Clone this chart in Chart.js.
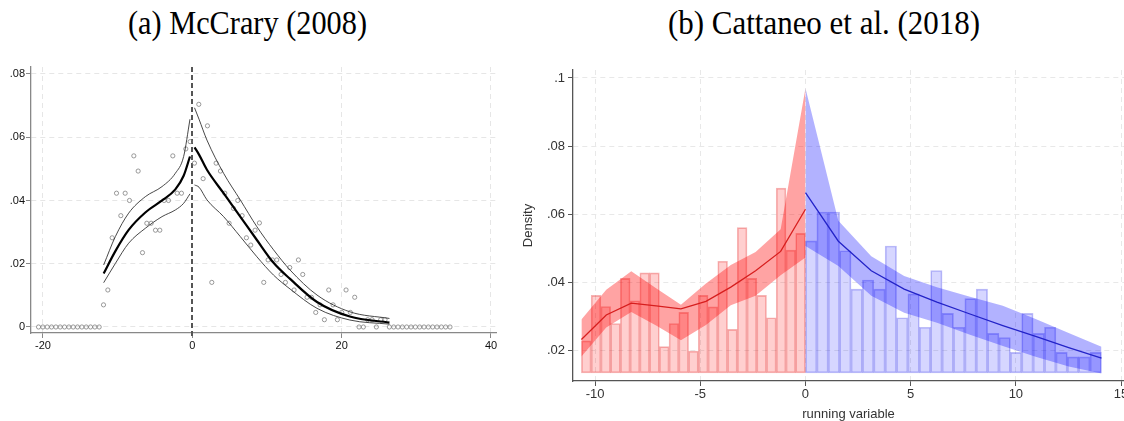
<!DOCTYPE html>
<html><head><meta charset="utf-8">
<script src="https://cdn.jsdelivr.net/npm/chart.js@4.4.1/dist/chart.umd.min.js"></script>
<style>
html,body{margin:0;padding:0;background:#fff;width:1124px;height:421px;overflow:hidden;}
.title{position:absolute;top:7px;font-family:"Liberation Serif","Times New Roman",serif;font-size:33px;color:#000;white-space:nowrap;transform-origin:left top;line-height:1;}
#cA{position:absolute;left:0;top:50px;}
#cB{position:absolute;left:515px;top:50px;}
</style></head><body>
<div class="title" id="tA">(a) McCrary (2008)</div>
<div class="title" id="tB">(b) Cattaneo et al. (2018)</div>
<canvas id="cA" width="512" height="371"></canvas>
<canvas id="cB" width="609" height="371"></canvas>
<script>
// ---------- Panel (a): McCrary (2008) ----------
const mcBinCenters = [-20.59,-20.01,-19.43,-18.85,-18.27,-17.69,-17.11,-16.53,-15.95,-15.37,-14.79,-14.21,-13.63,-13.05,-12.47,
 -11.89,-11.31,-10.73,-10.15,-9.57,-8.99,-8.41,-7.83,-7.25,-6.67,-6.09,-5.51,-4.93,-4.35,-3.77,-3.19,-2.61,-2.03,-1.45,-0.87,-0.29,
 0.29,0.87,1.45,2.03,2.61,3.19,3.77,4.35,4.93,5.51,6.09,6.67,7.25,7.83,8.41,8.99,9.57,10.15,10.73,11.31,11.89,12.47,13.05,13.63,14.21,
 14.79,15.37,15.95,16.53,17.11,17.69,18.27,18.85,19.43,20.01,20.59,21.17,21.75,22.33,22.91,23.49,24.07,24.65,25.23,25.81,
 26.39,26.97,27.55,28.13,28.71,29.29,29.87,30.45,31.03,31.61,32.19,32.77,33.35,33.93,34.51];
const mcBinDensity = [0,0,0,0,0,0,0,0,0,0,0,0,0,0,0,
 0.0070,0.0117,0.0282,0.0423,0.0352,0.0423,0.0400,0.0541,0.0493,0.0235,0.0328,0.0328,0.0306,0.0306,0.0400,0.0400,0.0541,0.0423,0.0423,0.0563,0.0586,
 0.0518,0.0704,0.0469,0.0636,0.0141,0.0518,0.0493,0.0423,0.0328,0.0375,0.0400,0.0352,0.0282,0.0259,0.0306,0.0329,0.0141,0.0212,0.0212,0.0212,0.0166,0.0141,0.0188,0.0117,0.0212,
 0.0166,0.0094,0.0094,0.0046,0.0070,0.0023,0.0117,0.0070,0.0023,0.0046,0.0117,0.0046,0.0094,0,0,0.0023,0.0023,0,0.0023,0.0023,
 0,0,0,0,0,0,0,0,0,0,0,0,0,0,0];
const mcFitLeftX = [-11.87,-10.3,-8.52,-6.29,-4.05,-2.27,-1.16,-0.31];
const mcFitLeftY = [0.0169,0.0240,0.0307,0.0362,0.0400,0.0435,0.0478,0.0539];
const mcCILeftUp = [0.0196,0.0286,0.0360,0.0412,0.0444,0.0486,0.0539,0.0657];
const mcCILeftLo = [0.0140,0.0201,0.0265,0.0312,0.0349,0.0370,0.0391,0.0421];
const mcFitRightX = [0.3,0.9,1.96,4.19,6.42,8.65,10.88,13.1,16.7,21.1,26.4];
const mcFitRightY = [0.0568,0.0545,0.0497,0.0423,0.0349,0.0275,0.0203,0.0152,0.0079,0.0033,0.0014];
const mcCIRightUp = [0.0693,0.0657,0.0591,0.0486,0.0402,0.0317,0.0244,0.0180,0.0101,0.0048,0.0027];
const mcCIRightLo = [0.0449,0.0442,0.0402,0.0349,0.0286,0.0222,0.0164,0.0120,0.0059,0.0022,0.0009];
const mcXTicks = [-20,0,20,40];
const mcYTicks = [0,0.02,0.04,0.06,0.08];
const mcCutoff = 0;

// ---------- Panel (b): Cattaneo et al. (2018) ----------
const ceRedBinX = [-10.419,-9.956,-9.493,-9.030,-8.567,-8.104,-7.641,-7.178,-6.715,-6.252,-5.789,-5.326,-4.863,-4.400,-3.937,-3.474,-3.011,-2.548,-2.085,-1.622,-1.159,-0.696,-0.233];
const ceRedBinY = [0.0227,0.0361,0.0328,0.0278,0.0411,0.0345,0.0427,0.0427,0.0210,0.0278,0.0311,0.0197,0.0361,0.0327,0.0461,0.0261,0.0560,0.0411,0.0361,0.0295,0.0676,0.0494,0.0543];
const ceBlueBinX = [0.271,0.812,1.353,1.894,2.435,2.976,3.517,4.058,4.599,5.140,5.681,6.222,6.763,7.304,7.845,8.386,8.927,9.468,10.009,10.550,11.091,11.632,12.173,12.714,13.255,13.796];
const ceBlueBinY = [0.0521,0.0606,0.0606,0.0492,0.0379,0.0406,0.0379,0.0506,0.0295,0.0365,0.0267,0.0434,0.0308,0.0267,0.0351,0.0379,0.0249,0.0237,0.0193,0.0308,0.0249,0.0267,0.0193,0.0180,0.0180,0.0193];
const ceRedX = [-10.65,-9.47,-8.28,-7.10,-5.92,-4.73,-3.55,-2.37,-1.18,0];
const ceRedFit = [0.0231,0.0303,0.0338,0.0330,0.0321,0.0343,0.0385,0.0433,0.0490,0.0614];
const ceRedUp = [0.0290,0.0377,0.0432,0.0382,0.0333,0.0396,0.0450,0.0488,0.0555,0.0970];
const ceRedLo = [0.0181,0.0266,0.0312,0.0272,0.0229,0.0274,0.0332,0.0360,0.0420,0.0472];
const ceBlueX = [0,1.563,3.127,4.69,6.25,7.82,9.38,10.94,12.51,14.07];
const ceBlueFit = [0.0663,0.0520,0.0433,0.0379,0.0341,0.0306,0.0272,0.0240,0.0207,0.0176];
const ceBlueUp = [0.0970,0.0580,0.0476,0.0418,0.0385,0.0357,0.0330,0.0291,0.0250,0.0210];
const ceBlueLo = [0.0506,0.0447,0.0360,0.0310,0.0280,0.0245,0.0212,0.0180,0.0152,0.0131];
const ceXTicks = [-10,-5,0,5,10,15];
const ceYTicks = [0.02,0.04,0.06,0.08,0.1];
const ceBarBase = 0.0133;

// ---------- helpers ----------
const xy = (xs, ys) => xs.map((x, i) => ({x: x, y: ys[i]}));
const stataNum = v => { if (Math.abs(v) < 1e-9) return '0'; let s = String(+v.toFixed(3)); return s.replace(/^0\./, '.').replace(/^-0\./, '-.'); };
const SANS = '"Liberation Sans", Arial, Helvetica, sans-serif';

function fitTitle(id, left, width) {
  const el = document.getElementById(id);
  const w = el.getBoundingClientRect().width;
  el.style.left = left + 'px';
  el.style.transform = 'scaleX(' + (width / w) + ')';
}
fitTitle('tA', 128, 239);
fitTitle('tB', 668, 312);

const cutoffPlugin = {
  id: 'cutoff',
  beforeDatasetsDraw(chart) {
    const xs = chart.scales.x, a = chart.chartArea, ctx = chart.ctx;
    const px = Math.round(xs.getPixelForValue(mcCutoff));
    ctx.save();
    ctx.strokeStyle = '#555';
    ctx.lineWidth = 2;
    ctx.setLineDash([5, 3]);
    ctx.beginPath();
    ctx.moveTo(px, a.top);
    ctx.lineTo(px, a.bottom + 6);
    ctx.stroke();
    ctx.restore();
  }
};

const lineDS = (xs, ys, color, width, order) => ({
  type: 'line', data: xy(xs, ys), borderColor: color, borderWidth: width,
  pointRadius: 0, fill: false, cubicInterpolationMode: 'monotone', order: order
});

new Chart(document.getElementById('cA'), {
  type: 'scatter',
  data: { datasets: [
    lineDS(mcFitLeftX, mcFitLeftY, '#000', 2.2, 0),
    lineDS(mcFitLeftX, mcCILeftUp, '#333', 0.9, 1),
    lineDS(mcFitLeftX, mcCILeftLo, '#333', 0.9, 1),
    lineDS(mcFitRightX, mcFitRightY, '#000', 2.2, 0),
    lineDS(mcFitRightX, mcCIRightUp, '#333', 0.9, 1),
    lineDS(mcFitRightX, mcCIRightLo, '#333', 0.9, 1),
    { type: 'scatter', data: xy(mcBinCenters, mcBinDensity), pointRadius: 2.1, pointBorderWidth: 0.8,
      pointBorderColor: '#808080', pointBackgroundColor: 'rgba(0,0,0,0)', order: 3 }
  ]},
  options: {
    responsive: false, animation: false, devicePixelRatio: 1,
    layout: { padding: { left: 0, top: 17, right: 16, bottom: 58 } },
    plugins: { legend: { display: false }, tooltip: { enabled: false } },
    scales: {
      x: {
        type: 'linear', min: -21.6, max: 40.67, offset: false,
        afterBuildTicks: s => { s.ticks = mcXTicks.map(v => ({value: v})); },
        afterFit: s => { s.height = 30; s.paddingLeft = 0; s.paddingRight = 0; },
        grid: { color: c => (c.tick && c.tick.value === mcCutoff) ? 'rgba(0,0,0,0)' : '#e6e6e6', lineWidth: 1,
                drawTicks: true, tickLength: 5, tickColor: '#888', tickWidth: 1 },
        border: { display: true, color: '#888', width: 1.3, dash: [5, 4] },
        ticks: { color: '#111', font: { family: SANS, size: 11 }, padding: 1, maxRotation: 0, autoSkip: false,
                 callback: v => stataNum(v) }
      },
      y: {
        type: 'linear', min: -0.0019, max: 0.0822,
        afterBuildTicks: s => { s.ticks = mcYTicks.map(v => ({value: v})); },
        afterFit: s => { s.width = 31; },
        grid: { color: '#e6e6e6', lineWidth: 1, drawTicks: true, tickLength: 5, tickColor: '#888', tickWidth: 1 },
        border: { display: true, color: '#888', width: 1.3, dash: [5, 4] },
        ticks: { color: '#111', font: { family: SANS, size: 11 }, padding: 1, autoSkip: false,
                 callback: v => stataNum(v) }
      }
    }
  },
  plugins: [cutoffPlugin]
});

const bandDS = (xs, up, color, order) => ({
  type: 'line', data: xy(xs, up), borderWidth: 0, borderColor: 'rgba(0,0,0,0)', pointRadius: 0,
  backgroundColor: color, fill: '+1', tension: 0, order: order
});
const bandLoDS = (xs, lo, order) => ({
  type: 'line', data: xy(xs, lo), borderWidth: 0, borderColor: 'rgba(0,0,0,0)', pointRadius: 0,
  fill: false, tension: 0, order: order
});

new Chart(document.getElementById('cB'), {
  type: 'scatter',
  data: { datasets: [
    { type: 'line', data: xy(ceRedX, ceRedFit), borderColor: 'rgb(215,30,30)', borderWidth: 1.3, pointRadius: 0, fill: false, tension: 0, order: 0 },
    { type: 'line', data: xy(ceBlueX, ceBlueFit), borderColor: 'rgb(35,35,200)', borderWidth: 1.3, pointRadius: 0, fill: false, tension: 0, order: 0 },
    bandDS(ceRedX, ceRedUp, 'rgba(255,0,0,0.36)', 1),
    bandLoDS(ceRedX, ceRedLo, 1),
    bandDS(ceBlueX, ceBlueUp, 'rgba(0,0,255,0.30)', 1),
    bandLoDS(ceBlueX, ceBlueLo, 1),
    { type: 'bar', xAxisID: 'xr', data: xy(ceRedBinX, ceRedBinY), base: ceBarBase,
      backgroundColor: 'rgba(255,0,0,0.19)', borderColor: 'rgba(225,40,40,0.35)', borderWidth: 1, borderSkipped: false,
      barPercentage: 1, categoryPercentage: 1, grouped: false, order: 2 },
    { type: 'bar', xAxisID: 'xb', data: xy(ceBlueBinX, ceBlueBinY), base: ceBarBase,
      backgroundColor: 'rgba(0,0,255,0.16)', borderColor: 'rgba(40,40,230,0.30)', borderWidth: 1, borderSkipped: false,
      barPercentage: 1, categoryPercentage: 1, grouped: false, order: 2 }
  ]},
  options: {
    responsive: false, animation: false, devicePixelRatio: 1,
    layout: { padding: { left: 0, top: 20, right: 0, bottom: 0 } },
    plugins: { legend: { display: false }, tooltip: { enabled: false } },
    scales: {
      x: {
        type: 'linear', min: -11.05, max: 15.14, offset: false,
        afterBuildTicks: s => { s.ticks = ceXTicks.map(v => ({value: v})); },
        afterFit: s => { s.height = 40; s.paddingLeft = 0; s.paddingRight = 0; },
        grid: { color: '#e8e8e8', lineWidth: 1, drawTicks: true, tickLength: 5, tickColor: '#555', tickWidth: 1 },
        border: { display: true, color: '#555', width: 1.3, dash: [5, 4] },
        ticks: { color: '#333', font: { family: SANS, size: 13 }, padding: 1, maxRotation: 0, autoSkip: false,
                 callback: v => stataNum(v) },
        title: { display: true, text: 'running variable', color: '#333', font: { family: SANS, size: 13, lineHeight: 1 }, padding: 0 }
      },
      xr: { type: 'linear', display: false, min: -11.05, max: 15.14, offset: false, grid: { offset: false } },
      xb: { type: 'linear', display: false, min: -11.05, max: 15.14, offset: false, grid: { offset: false } },
      y: {
        type: 'linear', min: 0.0109, max: 0.10235,
        afterBuildTicks: s => { s.ticks = ceYTicks.map(v => ({value: v})); },
        afterFit: s => { s.width = 58; },
        grid: { color: '#e8e8e8', lineWidth: 1, drawTicks: true, tickLength: 5, tickColor: '#555', tickWidth: 1 },
        border: { display: true, color: '#555', width: 1.3, dash: [5, 4] },
        ticks: { color: '#333', font: { family: SANS, size: 13 }, padding: 3, autoSkip: false,
                 callback: v => stataNum(v) },
        title: { display: true, text: 'Density', color: '#333', font: { family: SANS, size: 13, lineHeight: 1 }, padding: { top: 7, bottom: 0 } }
      }
    }
  }
});
</script>
</body></html>
